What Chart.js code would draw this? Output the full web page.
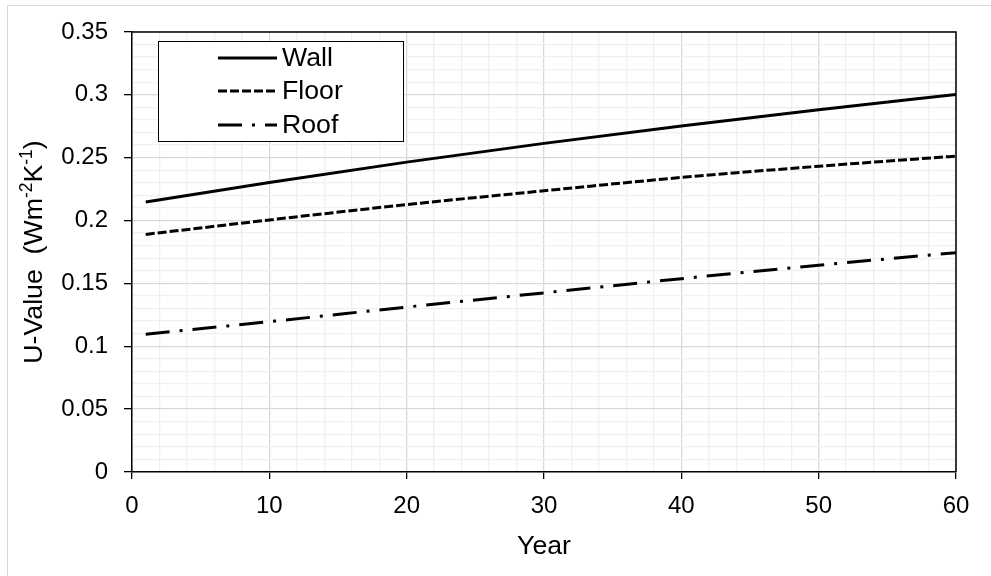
<!DOCTYPE html>
<html>
<head>
<meta charset="utf-8">
<script src="https://cdn.jsdelivr.net/npm/chart.js@4/dist/chart.umd.min.js"></script>
<style>
html,body{margin:0;padding:0;background:#fff;}
canvas{display:block;}
</style>
</head>
<body>
<canvas id="c" width="991" height="576"></canvas>
<script>
// ---- data ----
const years = [1, 10, 20, 30, 40, 50, 60];
const wall  = [0.2147, 0.2302, 0.2465, 0.2614, 0.2753, 0.2882, 0.3003];
const floor = [0.1890, 0.2005, 0.2127, 0.2237, 0.2343, 0.2432, 0.2513];
const roof  = [0.1096, 0.1196, 0.1312, 0.1425, 0.1538, 0.1645, 0.1745];
const seriesNames = ['Wall', 'Floor', 'Roof'];
const xTickLabels = ['0', '10', '20', '30', '40', '50', '60'];
const yTickLabels = ['0', '0.05', '0.1', '0.15', '0.2', '0.25', '0.3', '0.35'];
const xTitle = 'Year';
const yTitleParts = [['U-Value  (Wm', false], ['-2', true], ['K', false], ['-1', true], [')', false]];

const FONT = '"Liberation Sans", Arial, sans-serif';
const dashes = [[], [9, 3], [24, 10, 3, 10]];
const seriesValues = [wall, floor, roof];

const datasets = seriesNames.map((name, i) => ({
  label: name,
  data: years.map((x, j) => ({x: x, y: seriesValues[i][j]})),
  borderColor: '#000',
  backgroundColor: '#000',
  borderWidth: 3,
  borderDash: dashes[i],
  borderCapStyle: 'butt',
  pointRadius: 0,
  fill: false,
  cubicInterpolationMode: 'monotone'
}));

const frame = {
  id: 'frame',
  beforeDraw(chart) {
    const ctx = chart.ctx;
    ctx.save();
    ctx.fillStyle = '#fff';
    ctx.fillRect(0, 0, chart.width, chart.height);
    ctx.strokeStyle = '#d9d9d9';
    ctx.lineWidth = 1;
    ctx.strokeRect(7.5, 5.5, 1200, 1200);
    ctx.restore();
  },
  afterDatasetsDraw(chart) {
    const ctx = chart.ctx, a = chart.chartArea;
    ctx.save();
    ctx.strokeStyle = '#000';
    ctx.lineWidth = 1.5;
    ctx.beginPath();
    ctx.moveTo(a.left, a.top);
    ctx.lineTo(a.right, a.top);
    ctx.lineTo(a.right, a.bottom);
    ctx.stroke();
    ctx.restore();
  },
  afterDraw(chart) {
    const ctx = chart.ctx, a = chart.chartArea;
    // y title with superscripts
    ctx.save();
    ctx.translate(42, (a.top + a.bottom) / 2);
    ctx.rotate(-Math.PI / 2);
    ctx.fillStyle = '#000';
    ctx.textBaseline = 'alphabetic';
    const big = '26.7px ' + FONT, small = '17.5px ' + FONT;
    let total = 0;
    yTitleParts.forEach(([t, sup]) => { ctx.font = sup ? small : big; total += ctx.measureText(t).width; });
    let x = -total / 2;
    yTitleParts.forEach(([t, sup]) => {
      ctx.font = sup ? small : big;
      ctx.fillText(t, x, sup ? -10 : 0);
      x += ctx.measureText(t).width;
    });
    ctx.restore();

    // legend
    ctx.save();
    const bx = 158.5, by = 41.5, bw = 245, bh = 100;
    ctx.fillStyle = '#fff';
    ctx.fillRect(bx, by, bw, bh);
    ctx.strokeStyle = '#000';
    ctx.lineWidth = 1;
    ctx.strokeRect(bx, by, bw, bh);
    const rows = [58, 91, 125];
    chart.data.datasets.forEach((ds, i) => {
      ctx.strokeStyle = ds.borderColor;
      ctx.lineWidth = ds.borderWidth;
      ctx.setLineDash(ds.borderDash);
      ctx.lineCap = 'butt';
      ctx.beginPath();
      ctx.moveTo(218, rows[i]);
      ctx.lineTo(277, rows[i]);
      ctx.stroke();
      ctx.setLineDash([]);
      ctx.fillStyle = '#000';
      ctx.font = '26.7px ' + FONT;
      ctx.textBaseline = 'middle';
      ctx.textAlign = 'left';
      ctx.fillText(ds.label, 282, rows[i] + 1);
    });
    ctx.restore();
  }
};

new Chart(document.getElementById('c'), {
  type: 'line',
  data: {datasets: datasets},
  plugins: [frame],
  options: {
    responsive: false,
    animation: false,
    devicePixelRatio: 1,
    layout: {padding: {top: 32, right: 35, left: 0, bottom: 0}},
    plugins: {legend: {display: false}, tooltip: {enabled: false}},
    scales: {
      x: {
        type: 'linear',
        min: 0, max: 60,
        afterFit(s) { s.height = 104; },
        ticks: {
          stepSize: 2,
          autoSkip: false,
          maxRotation: 0,
          padding: 13,
          color: '#000',
          font: {size: 24, family: FONT},
          callback: (v) => (v % 10 === 0 ? xTickLabels[v / 10] : '')
        },
        grid: {
          color: (c) => (c.tick && c.tick.value % 10 === 0 ? '#d9d9d9' : '#f0f0f0'),
          tickColor: (c) => (c.tick && c.tick.value % 10 === 0 ? '#000' : 'rgba(0,0,0,0)'),
          tickLength: 7,
          lineWidth: 1.3
        },
        border: {display: true, color: '#000', width: 1.5},
        title: {
          display: true,
          text: xTitle,
          color: '#000',
          font: {size: 26.7, family: FONT},
          padding: {top: 0, bottom: 13}
        }
      },
      y: {
        type: 'linear',
        min: 0, max: 0.35,
        afterFit(s) { s.width = 132; },
        ticks: {
          stepSize: 0.01,
          autoSkip: false,
          padding: 16,
          color: '#000',
          font: {size: 24, family: FONT},
          callback: (v) => { const k = Math.round(v * 100); return k % 5 === 0 ? yTickLabels[k / 5] : ''; }
        },
        grid: {
          color: (c) => (c.tick && Math.round(c.tick.value * 100) % 5 === 0 ? '#d9d9d9' : '#f0f0f0'),
          tickColor: (c) => (c.tick && Math.round(c.tick.value * 100) % 5 === 0 ? '#000' : 'rgba(0,0,0,0)'),
          tickLength: 8,
          lineWidth: 1.3
        },
        border: {display: true, color: '#000', width: 1.5}
      }
    }
  }
});
</script>
</body>
</html>
